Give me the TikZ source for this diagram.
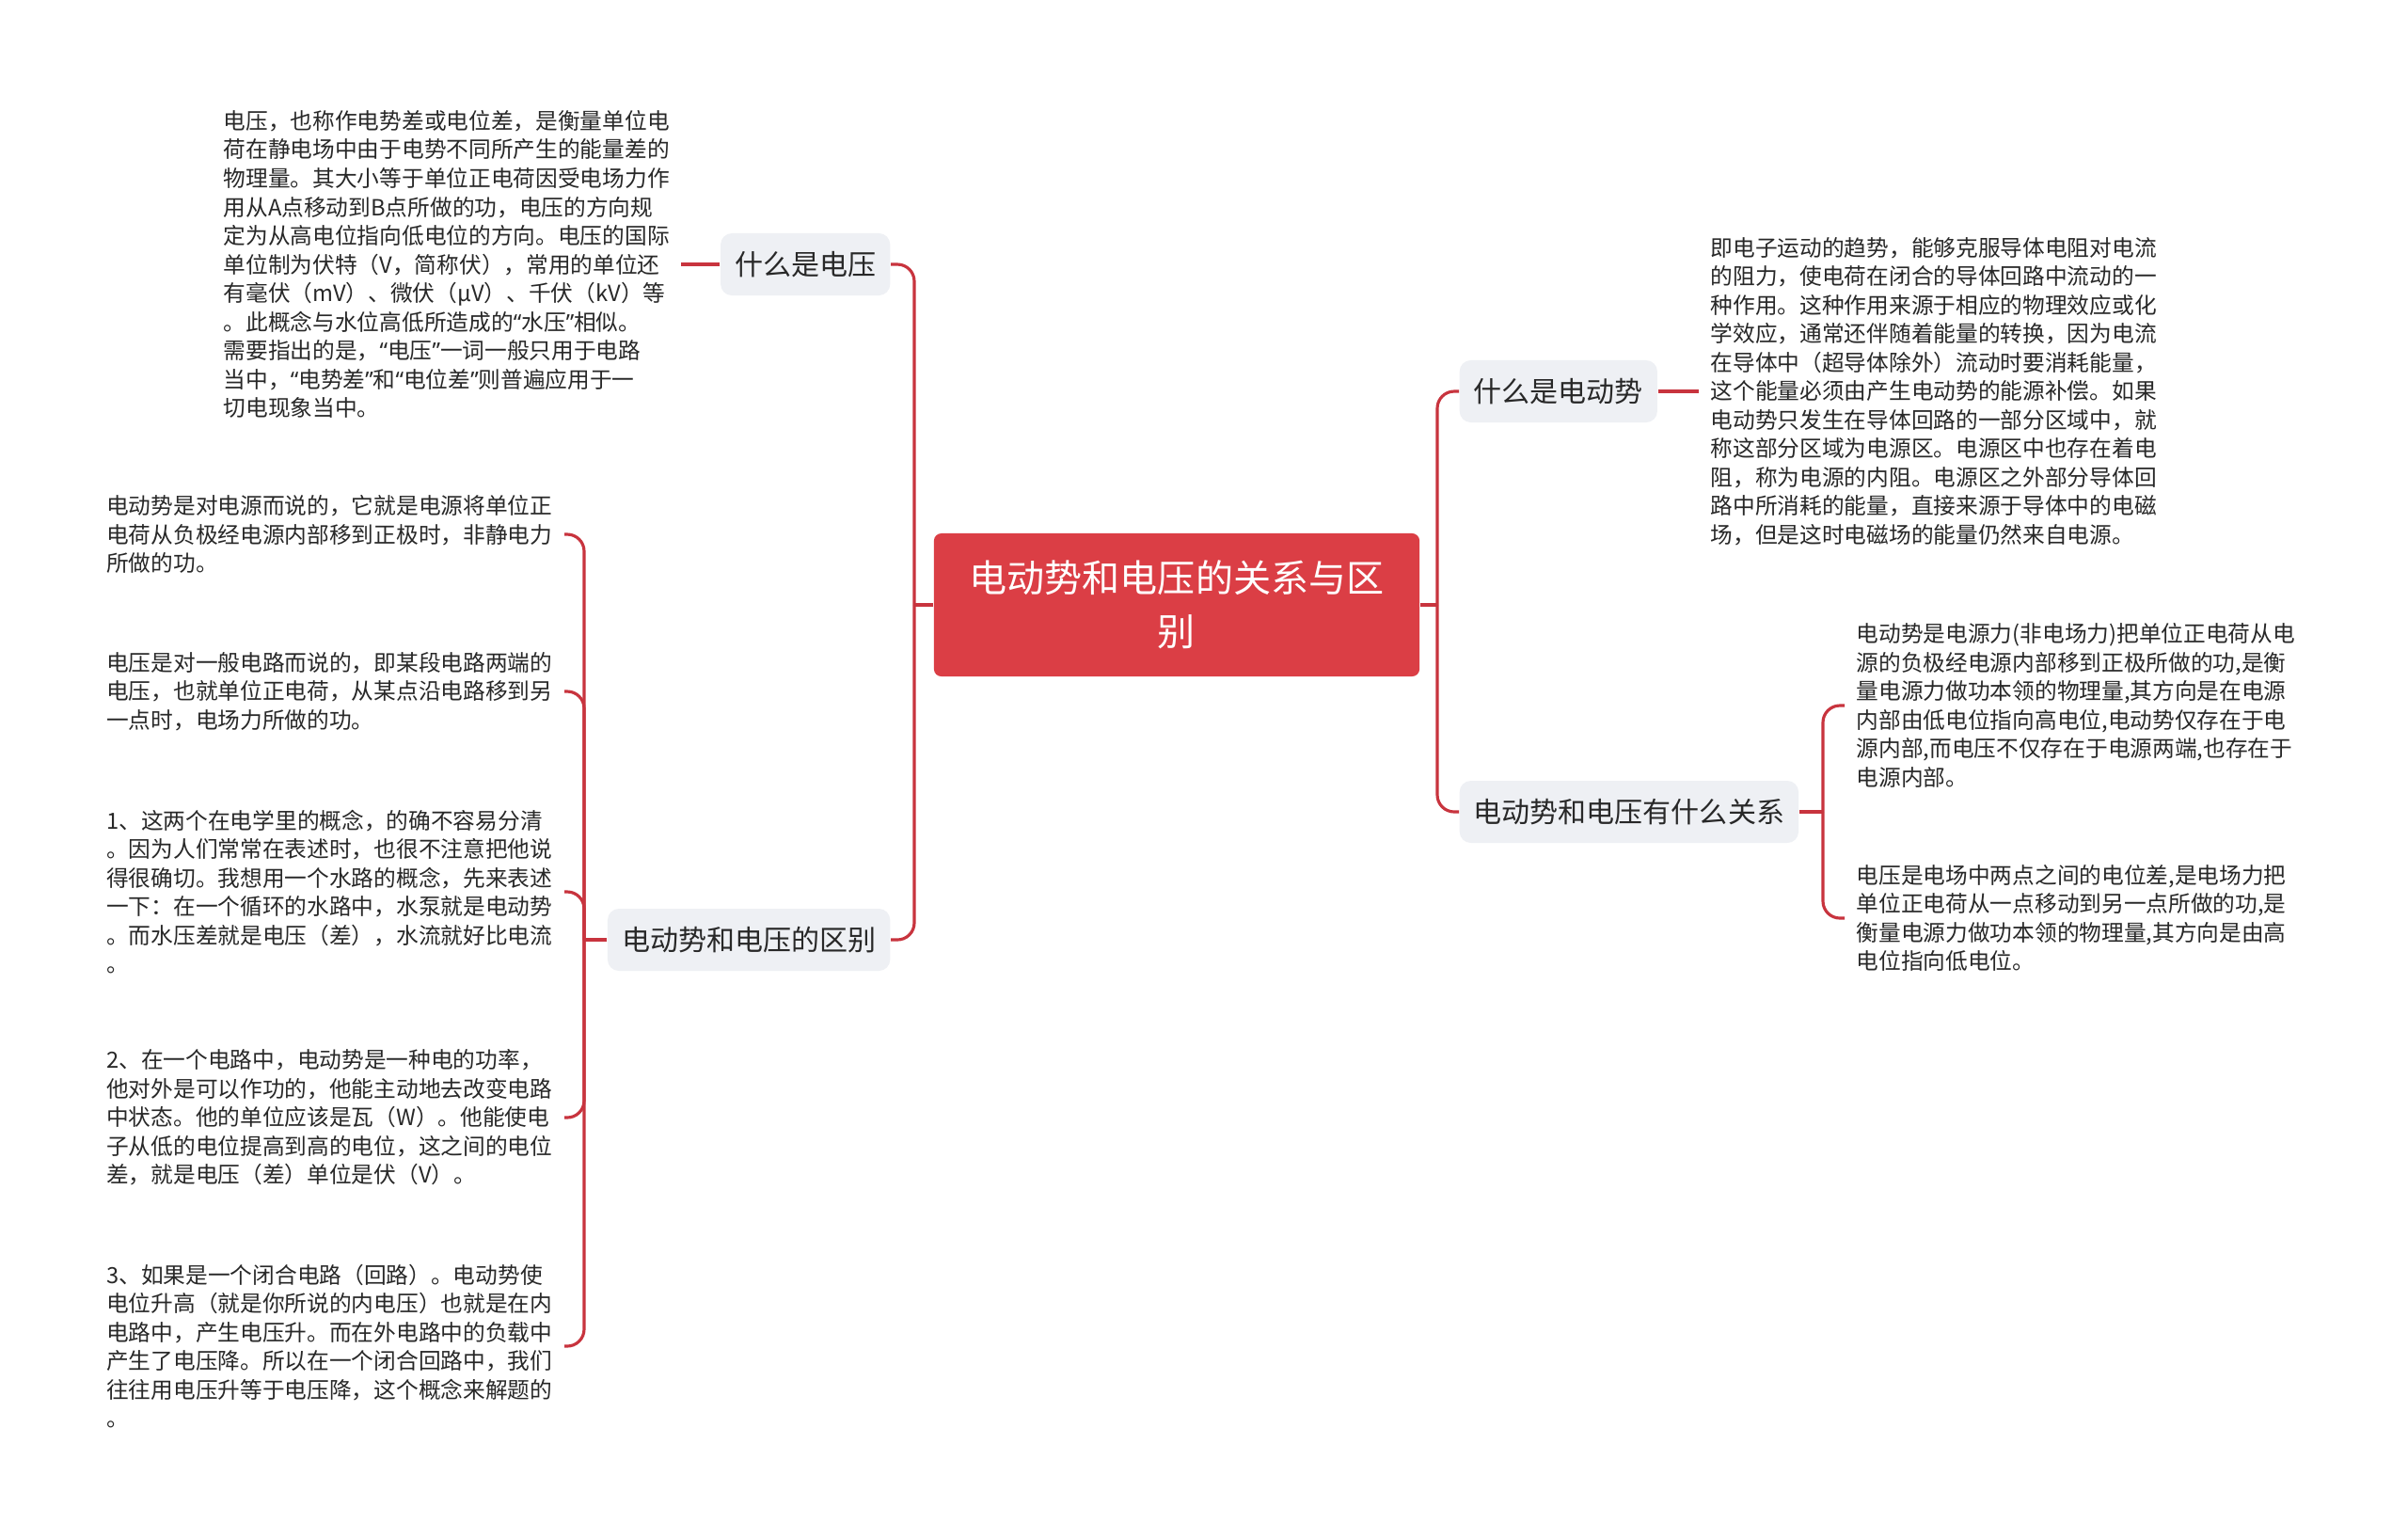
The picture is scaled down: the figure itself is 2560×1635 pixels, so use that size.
\documentclass[tikz,border=0pt]{standalone}
\usepackage{fontspec}
\setmainfont{Noto Sans CJK SC}
\newfontfamily\latinfont{Noto Sans}
\newcommand{\openq}{{\latinfont “}}
\newcommand{\closeq}{{\latinfont ”}}
\definecolor{rootred}{RGB}{219, 62, 69}
\definecolor{linkred}{RGB}{200, 52, 62}
\definecolor{topicgray}{RGB}{238, 240, 244}
\definecolor{inkgray}{RGB}{40, 40, 40}
\tikzset{
    rootbox/.style={
        rectangle, rounded corners=0.08cm, minimum width=5.16cm, minimum height=1.52cm,
        fill=rootred, text=white, align=center,
        font=\fontsize{11.4}{16.2}\selectfont
    },
    topicbox/.style={
        rectangle, rounded corners=0.12cm, minimum height=0.66cm, inner xsep=0.15cm,
        fill=topicgray, text=inkgray, font=\fontsize{8.54}{10}\selectfont
    },
    leaftext/.style={align=left, inner xsep=0.12cm, inner ysep=0pt, text=inkgray,
        font=\fontsize{6.74}{8.68}\selectfont},
    link/.style={draw=linkred, line width=0.9pt},
    elbow/.style={link, rounded corners=0.18cm},
}

\begin{document}
\begin{tikzpicture}[x=0.01cm, y=-0.01cm]
    \useasboundingbox[fill=white] (0,0) rectangle (2560,1635);

    \node[rootbox] (root) at (1251,643) {电动势和电压的关系与区\\别};

    \node[topicbox, anchor=east] (voltage) at (947,281) {什么是电压};
    \node[topicbox, anchor=east] (diff) at (947,999) {电动势和电压的区别};
    \node[topicbox, anchor=west] (emf) at (1551,416) {什么是电动势};
    \node[topicbox, anchor=west] (relation) at (1551,863) {电动势和电压有什么关系};

    \coordinate (ljoin) at (972,643);
    \coordinate (rjoin) at (1528,643);
    \coordinate (djoin) at (621,999);
    \coordinate (rljoin) at (1938,863);

    % left side texts
    \node[leaftext, anchor=west] (voltagetext) at (225,281) {电压，也称作电势差或电位差，是衡量单位电\\荷在静电场中由于电势不同所产生的能量差的\\物理量。其大小等于单位正电荷因受电场力作\\用从A点移动到B点所做的功，电压的方向规\\定为从高电位指向低电位的方向。电压的国际\\单位制为伏特（V，简称伏），常用的单位还\\有毫伏（mV）、微伏（μV）、千伏（kV）等\\。此概念与水位高低所造成的\openq 水压\closeq 相似。\\需要指出的是，\openq 电压\closeq 一词一般只用于电路\\当中，\openq 电势差\closeq 和\openq 电位差\closeq 则普遍应用于一\\切电现象当中。};
    \node[leaftext, anchor=east] (diffa) at (600,568) {电动势是对电源而说的，它就是电源将单位正\\电荷从负极经电源内部移到正极时，非静电力\\所做的功。};
    \node[leaftext, anchor=east] (diffb) at (600,735) {电压是对一般电路而说的，即某段电路两端的\\电压，也就单位正电荷，从某点沿电路移到另\\一点时，电场力所做的功。};
    \node[leaftext, anchor=east] (diffc) at (600,948) {1、这两个在电学里的概念，的确不容易分清\\。因为人们常常在表述时，也很不注意把他说\\得很确切。我想用一个水路的概念，先来表述\\一下：在一个循环的水路中，水泵就是电动势\\。而水压差就是电压（差），水流就好比电流\\。};
    \node[leaftext, anchor=east] (diffd) at (600,1188) {2、在一个电路中，电动势是一种电的功率，\\他对外是可以作功的，他能主动地去改变电路\\中状态。他的单位应该是瓦（W）。他能使电\\子从低的电位提高到高的电位，这之间的电位\\差，就是电压（差）单位是伏（V）。};
    \node[leaftext, anchor=east] (diffe) at (600,1431) {3、如果是一个闭合电路（回路）。电动势使\\电位升高（就是你所说的内电压）也就是在内\\电路中，产生电压升。而在外电路中的负载中\\产生了电压降。所以在一个闭合回路中，我们\\往往用电压升等于电压降，这个概念来解题的\\。};

    % right side texts
    \node[leaftext, anchor=west] (emftext) at (1806,416) {即电子运动的趋势，能够克服导体电阻对电流\\的阻力，使电荷在闭合的导体回路中流动的一\\种作用。这种作用来源于相应的物理效应或化\\学效应，通常还伴随着能量的转换，因为电流\\在导体中（超导体除外）流动时要消耗能量，\\这个能量必须由产生电动势的能源补偿。如果\\电动势只发生在导体回路的一部分区域中，就\\称这部分区域为电源区。电源区中也存在着电\\阻，称为电源的内阻。电源区之外部分导体回\\路中所消耗的能量，直接来源于导体中的电磁\\场，但是这时电磁场的能量仍然来自电源。};
    \node[leaftext, anchor=west] (rela) at (1961,750) {电动势是电源力(非电场力)把单位正电荷从电\\源的负极经电源内部移到正极所做的功,是衡\\量电源力做功本领的物理量,其方向是在电源\\内部由低电位指向高电位,电动势仅存在于电\\源内部,而电压不仅存在于电源两端,也存在于\\电源内部。};
    \node[leaftext, anchor=west] (relb) at (1961,976) {电压是电场中两点之间的电位差,是电场力把\\单位正电荷从一点移动到另一点所做的功,是\\衡量电源力做功本领的物理量,其方向是由高\\电位指向低电位。};

    \draw[link] (root.west) -- (ljoin);
    \draw[elbow] (ljoin) |- (voltage.east);
    \draw[elbow] (ljoin) |- (diff.east);
    \draw[link] (root.east) -- (rjoin);
    \draw[elbow] (rjoin) |- (emf.west);
    \draw[elbow] (rjoin) |- (relation.west);

    \draw[link] (voltage.west) -- (voltagetext.east);
    \draw[link] (emf.east) -- (emftext.west);

    \draw[link] (diff.west) -- (djoin);
    \foreach \leaf in {diffa,diffb,diffc,diffd,diffe}
        \draw[elbow] (djoin) |- (\leaf.east);
    \draw[link] (relation.east) -- (rljoin);
    \foreach \leaf in {rela,relb}
        \draw[elbow] (rljoin) |- (\leaf.west);
\end{tikzpicture}
\end{document}
